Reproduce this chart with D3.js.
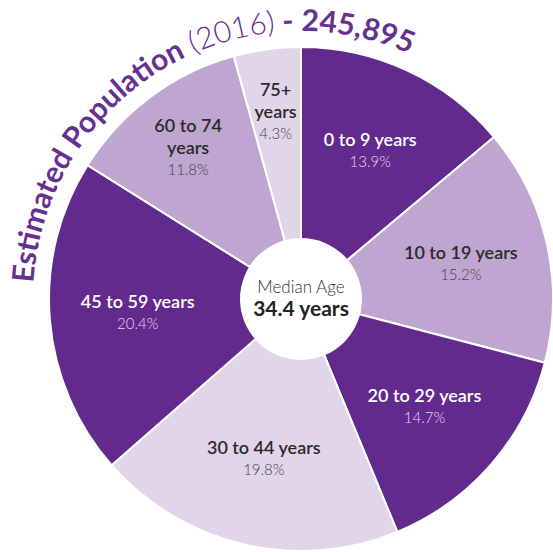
<!DOCTYPE html>
<html>
<head>
<meta charset="utf-8">
<script src="https://cdn.jsdelivr.net/npm/d3@7"></script>
<style>
  html, body { margin: 0; padding: 0; background: #fff; }
  svg { display: block; font-family: Lato, "Noto Sans", sans-serif; }
</style>
</head>
<body>
<svg id="chart" width="553" height="552"></svg>
<script>
// Population share by age group (percent of total)
const ageGroups = ["0 to 9 years", "10 to 19 years", "20 to 29 years", "30 to 44 years",
                   "45 to 59 years", "60 to 74 years", "75+ years"];
const shares = [13.9, 15.2, 14.7, 19.8, 20.4, 11.8, 4.3];
const shadeLevels = ["dark", "medium", "dark", "light", "dark", "medium", "light"];

// Headline figures
const titleLabel = "Estimated Population";
const titleYear = 2016;
const population = 245895;
const medianAgeLabel = "Median Age";
const medianAge = 34.4;

const palette = { dark: "#632a8d", medium: "#bea6d0", light: "#e0d5e9" };
const titleColor = "#66308f";

const svg = d3.select("#chart");
const cx = 301, cy = 299;
const R = 252, holeR = 61;

const g = svg.append("g").attr("transform", `translate(${cx},${cy})`);

const data = ageGroups.map((name, i) => ({ name, share: shares[i], shade: shadeLevels[i] }));

const pie = d3.pie().sort(null).value(d => d.share);
const arcs = pie(data);
const arcGen = d3.arc().innerRadius(0).outerRadius(R);

g.selectAll("path.slice")
  .data(arcs)
  .join("path")
  .attr("class", "slice")
  .attr("d", arcGen)
  .attr("fill", d => palette[d.data.shade])
  .attr("stroke", "#fff")
  .attr("stroke-width", 2)
  .attr("stroke-linejoin", "round");

// Slice labels: narrow slices get the label pushed outward and wrapped
const fmtPct = v => d3.format(".1f")(v) + "%";
const nameLineH = 22, pctLineH = 21;
arcs.forEach(d => {
  const span = d.endAngle - d.startAngle;
  const narrow = span < Math.PI / 4;
  const lr = narrow ? R * 0.75 : R * 0.65;
  const [lx, ly] = d3.arc().innerRadius(lr).outerRadius(lr).centroid(d);
  const nameLines = narrow ? d.data.name.replace(/ years$/, "\nyears").split("\n") : [d.data.name];
  const blockH = (nameLines.length - 1) * nameLineH + pctLineH;
  const y0 = ly - blockH / 2 + 6;
  const onDark = d.data.shade === "dark";
  nameLines.forEach((ln, i) => {
    g.append("text")
      .attr("text-anchor", "middle")
      .attr("x", lx).attr("y", y0 + i * nameLineH)
      .attr("font-size", 18).attr("font-weight", 600)
      .attr("fill", onDark ? "#ffffff" : "#2a2a2a")
      .text(ln);
  });
  g.append("text")
    .attr("text-anchor", "middle")
    .attr("x", lx).attr("y", y0 + (nameLines.length - 1) * nameLineH + pctLineH)
    .attr("font-size", 15).attr("font-weight", 300)
    .attr("fill", onDark ? "#e4d8ef" : "#444444")
    .text(fmtPct(d.data.share));
});

// Centre hole with the median age
g.append("circle").attr("r", holeR).attr("fill", "#fff");
g.append("text").attr("text-anchor", "middle").attr("y", -6)
  .attr("font-size", 17).attr("font-weight", 300).attr("fill", "#333")
  .text(medianAgeLabel);
g.append("text").attr("text-anchor", "middle").attr("y", 17)
  .attr("font-size", 21).attr("font-weight", 700).attr("fill", "#222")
  .text(`${medianAge} years`);

// Curved headline running round the upper-left rim
const titleR = 268;
const deg = Math.PI / 180;
const a0 = 250 * deg, a1 = 420 * deg;
const pt = a => [titleR * Math.sin(a), -titleR * Math.cos(a)];
const [x0, y0] = pt(a0), [x1, y1] = pt(a1);
g.append("path")
  .attr("id", "titleArc")
  .attr("fill", "none")
  .attr("d", `M${x0},${y0} A${titleR},${titleR} 0 0 1 ${x1},${y1}`);

const titleStart = (273.4 - 250) * deg * titleR;
const titleWords = [
  { text: "Estimated", weight: 700 },
  { text: "Population", weight: 700 },
  { text: `(${titleYear})`, weight: 300 },
  { text: "-", weight: 700 },
  { text: d3.format(",")(population), weight: 700 }
];

// Lay the whole line out once to find where each word starts along the arc
const probe = g.append("text").attr("font-size", 30);
const probePath = probe.append("textPath").attr("href", "#titleArc");
const wordStarts = [];
let charCount = 0;
titleWords.forEach((w, i) => {
  const chunk = (i > 0 ? " " : "") + w.text;
  wordStarts.push(charCount + (i > 0 ? 1 : 0));
  probePath.append("tspan").attr("font-weight", w.weight).text(chunk);
  charCount += chunk.length;
});
const probeNode = probe.node();
const offsets = wordStarts.map(k => k === 0 ? 0 : probeNode.getSubStringLength(0, k));
probe.remove();

// Each word as its own piece of text on the shared arc
titleWords.forEach((w, i) => {
  g.append("text")
    .attr("font-size", 30)
    .attr("font-weight", w.weight)
    .attr("fill", titleColor)
    .append("textPath")
    .attr("href", "#titleArc")
    .attr("startOffset", titleStart + offsets[i])
    .text(w.text);
});
</script>
</body>
</html>
